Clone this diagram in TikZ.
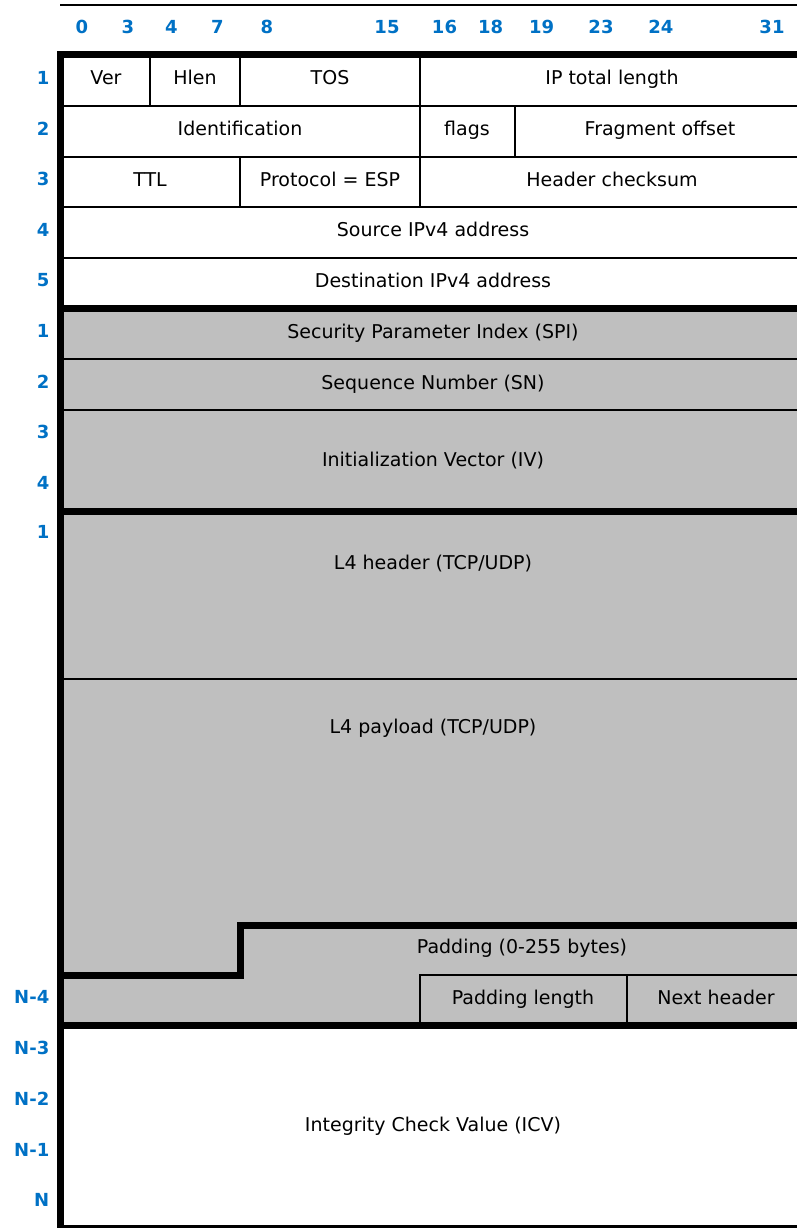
\documentclass[tikz,border=0pt]{standalone}
\usepackage{fontspec}
\setmainfont{DejaVu Sans}
\definecolor{numblue}{RGB}{0,113,197}
\definecolor{fillgray}{RGB}{191,191,191}
\begin{document}
\begin{tikzpicture}[x=1pt,y=-1pt,
  frame/.style={line width=7pt, line cap=butt, line join=miter},
  thinline/.style={line width=1.8pt},
  lbl/.style={font=\fontsize{19}{22}\selectfont, anchor=base, inner sep=0pt},
  bitnum/.style={font=\fontsize{18}{21}\selectfont\bfseries, text=numblue, inner sep=0pt},
  rownum/.style={bitnum, anchor=east}
]
\useasboundingbox (0,0) rectangle (797,1228);
\clip (0,0) rectangle (797,1228);

% fills
\fill[white] (60,55) rectangle (810,308.5);
\fill[fillgray] (60,308.5) rectangle (810,1025.5);
\fill[white] (60,1025.5) rectangle (810,1228);

% top thin line
\draw[line width=2pt] (60,5) -- (810,5);

% thin row lines
\foreach \yy in {106,157,207,258,359,410,679}
  \draw[thinline] (60,\yy) -- (810,\yy);

% thin dividers IP header
\draw[thinline] (150,55) -- (150,106);
\draw[thinline] (240,55) -- (240,106);
\draw[thinline] (420,55) -- (420,106);
\draw[thinline] (420,106) -- (420,157);
\draw[thinline] (515,106) -- (515,157);
\draw[thinline] (240,157) -- (240,207);
\draw[thinline] (420,157) -- (420,207);

% padding length / next header boxes
\draw[thinline] (420,1025) -- (420,975) -- (810,975);
\draw[thinline] (627,975) -- (627,1025);

% thick frame lines
\draw[frame] (60,55) -- (810,55);
\draw[frame] (60,308.5) -- (810,308.5);
\draw[frame] (60,511) -- (810,511);
\draw[frame] (60,975) -- (240,975) -- (240,925) -- (810,925);
\draw[frame] (60,1025.5) -- (810,1025.5);
\draw[frame] (60,1228.5) -- (810,1228.5);
\draw[frame] (60,51.5) -- (60,1232);

% bit numbers
\node[bitnum] (b0)  at (82,27) {0};
\node[bitnum] (b3)  at (128,27) {3};
\node[bitnum] (b4)  at (171.5,27) {4};
\node[bitnum] (b7)  at (217.5,27) {7};
\node[bitnum] (b8)  at (267,27) {8};
\node[bitnum] (b15) at (387,27) {15};
\node[bitnum] (b16) at (444.5,27) {16};
\node[bitnum] (b18) at (490.7,27) {18};
\node[bitnum] (b19) at (541.7,27) {19};
\node[bitnum] (b23) at (601,27) {23};
\node[bitnum] (b24) at (660.8,27) {24};
\node[bitnum] (b31) at (772,27) {31};

% row numbers
\node[rownum] (r1)  at (49.5,78) {1};
\node[rownum] (r2)  at (49.5,128.5) {2};
\node[rownum] (r3)  at (49.5,179) {3};
\node[rownum] (r4)  at (49.5,229.5) {4};
\node[rownum] (r5)  at (49.5,280) {5};
\node[rownum] (e1)  at (49.5,331) {1};
\node[rownum] (e2)  at (49.5,382) {2};
\node[rownum] (e3)  at (49.5,432) {3};
\node[rownum] (e4)  at (49.5,483) {4};
\node[rownum] (l1)  at (49.5,532) {1};
\node[rownum] (n4)  at (49.5,997) {N-4};
\node[rownum] (n3)  at (49.5,1047.5) {N-3};
\node[rownum] (n2)  at (49.5,1098.7) {N-2};
\node[rownum] (n1)  at (49.5,1149.5) {N-1};
\node[rownum] (n0)  at (49.5,1199.7) {N};

% field labels
\node[lbl] (ver)   at (106,85) {Ver};
\node[lbl] (hlen)  at (195,85) {Hlen};
\node[lbl] (tos)   at (330,85) {TOS};
\node[lbl] (iptl)  at (612,85) {IP total length};
\node[lbl] (ident) at (240,135.5) {Identification};
\node[lbl] (flags) at (467,135.5) {flags};
\node[lbl] (frag)  at (660,135.5) {Fragment offset};
\node[lbl] (ttl)   at (150,186) {TTL};
\node[lbl] (proto) at (330,186) {Protocol = ESP};
\node[lbl] (hcs)   at (612,186) {Header checksum};
\node[lbl] (src)   at (433,236.5) {Source IPv4 address};
\node[lbl] (dst)   at (433,287) {Destination IPv4 address};
\node[lbl] (spi)   at (433,338) {Security Parameter Index (SPI)};
\node[lbl] (sn)    at (433,389) {Sequence Number (SN)};
\node[lbl] (iv)    at (433,466) {Initialization Vector (IV)};
\node[lbl] (l4h)   at (433,569) {L4 header (TCP/UDP)};
\node[lbl] (l4p)   at (433,733) {L4 payload (TCP/UDP)};
\node[lbl] (pad)   at (522,953) {Padding (0-255 bytes)};
\node[lbl] (padl)  at (523,1004) {Padding length};
\node[lbl] (nh)    at (716,1004) {Next header};
\node[lbl] (icv)   at (433,1131) {Integrity Check Value (ICV)};
\end{tikzpicture}
\end{document}
